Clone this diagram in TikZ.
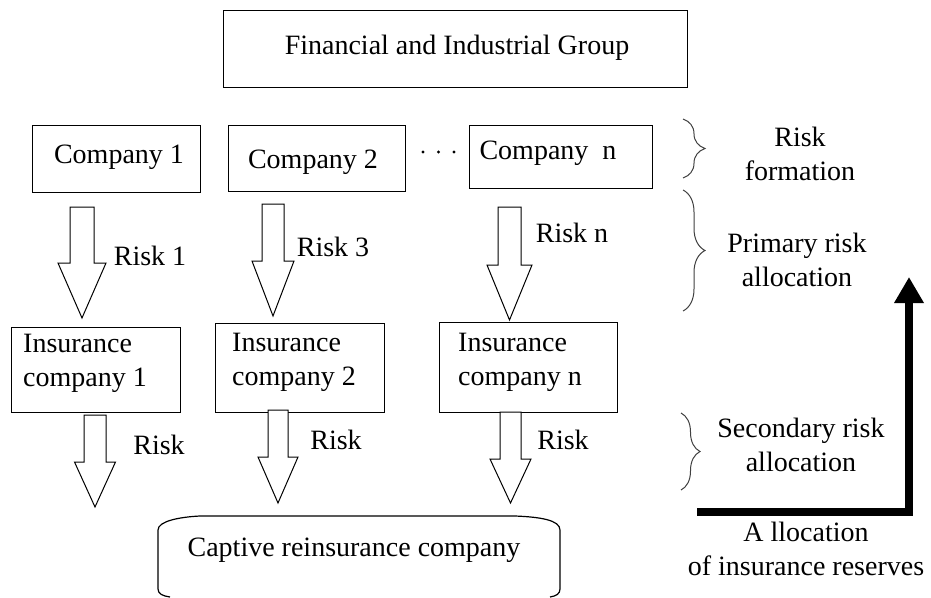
\documentclass[tikz,border=0pt]{standalone}
\usepackage{fontspec}
\setmainfont{Liberation Serif}
\usetikzlibrary{arrows.meta,decorations.pathreplacing}
\newcommand\blockarr[6]{%
  \draw[arrowbox] ({#1-#5},#2) -- ({#1+#5},#2) -- ({#1+#5},#3) -- ({#1+#6},#3)
    -- (#1,#4) -- ({#1-#6},#3) -- ({#1-#5},#3) -- cycle;}
\begin{document}
\begin{tikzpicture}[x=1pt,y=-1pt,
  box/.style={draw, line width=1.2pt, inner sep=0pt, anchor=north west},
  txt/.style={inner sep=0pt, font=\fontsize{28}{34}\selectfont},
  arrowbox/.style={draw, line width=1pt, fill=white, line join=miter},
  brc/.style={draw=black!75, line width=1pt, decorate, decoration={brace, amplitude=#1}}]
\useasboundingbox (0,0) rectangle (931,597);
\fill[white] (0,0) rectangle (931,597);

% top box
\node[box, minimum width=464pt, minimum height=77pt] (fig) at (223,10) {};
\node[txt] (figt) at (457,48) {Financial and Industrial Group};

% companies
\node[box, minimum width=168pt, minimum height=67pt] (c1) at (32,125) {};
\node[txt] (c1t) at (119,157) {Company 1};
\node[box, minimum width=177pt, minimum height=66pt] (c2) at (228,125) {};
\node[txt] (c2t) at (313,162) {Company 2};
\node[box, minimum width=183pt, minimum height=63pt] (cn) at (469,125) {};
\node[txt] (cnt) at (548,153) {Company\ \ n};
\foreach \i/\xx in {1/423,2/438.5,3/454}
  \fill (\xx,152) coordinate (dot\i) circle (1.7pt);

% primary arrows
\blockarr{82}{207}{263}{318}{12}{24}
\blockarr{273}{204}{261}{316}{11}{21}
\blockarr{509.5}{207}{265}{320}{11.5}{22.5}
\node[txt] (r1) at (150,256) {Risk 1};
\node[txt] (r2) at (333,247) {Risk 3};
\node[txt] (rn) at (572,233) {Risk n};

% insurance companies
\node[box, minimum width=169pt, minimum height=85pt] (i1) at (11,327) {};
\node[txt, align=left, anchor=west] (i1t) at (23,363) {Insurance\\company 1};
\node[box, minimum width=169pt, minimum height=89pt] (i2) at (215,323) {};
\node[txt, align=left, anchor=west] (i2t) at (232,362) {Insurance\\company 2};
\node[box, minimum width=178pt, minimum height=90pt] (in) at (439,322) {};
\node[txt, align=left, anchor=west] (int) at (458,362) {Insurance\\company n};

% secondary arrows
\blockarr{95}{415}{462}{507}{11}{20.5}
\blockarr{278}{410}{457}{503}{10}{20}
\blockarr{510.5}{412}{459}{503}{10.5}{20.5}
\node[txt] (s1) at (159,445) {Risk};
\node[txt] (s2) at (336,440) {Risk};
\node[txt] (s3) at (563,440) {Risk};

% captive reinsurance company
\node[txt] (cap) at (354,550) {Captive reinsurance company};
\draw[line width=1.2pt] (200,516) -- (515,516)
  .. controls (540,517) and (560,520) .. (560,530) -- (560,589)
  .. controls (560,594) and (556,596) .. (550,597)
  (170,597) .. controls (163,596) and (158,594) .. (158,589) -- (158,530)
  .. controls (158,521) and (180,517) .. (200,516);

% braces and stage labels
\draw[brc=22pt] (683,119) -- (683,178);
\draw[brc=22pt] (683,190) -- (683,311);
\draw[brc=19pt] (681,413) -- (681,490);
\node[txt, align=center] (lf) at (800,154) {Risk\\formation};
\node[txt, align=center] (lp) at (797,260) {Primary risk\\allocation};
\node[txt, align=center] (ls) at (801,445) {Secondary risk\\allocation};
\node[txt, align=center] (lr) at (806,549) {A llocation\\of insurance reserves};

% reserves arrow
\coordinate (res0) at (697,512);
\coordinate (res1) at (909,512);
\coordinate (res2) at (909,277);
\draw[line width=8pt, -{Triangle[width=28pt,length=26pt]}] (res0) -- (res1) -- (res2);
\end{tikzpicture}
\end{document}
